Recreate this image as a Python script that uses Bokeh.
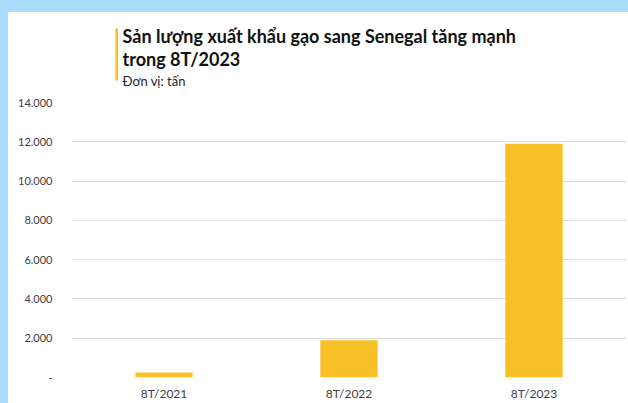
from bokeh.plotting import figure
from bokeh.models import Range1d, FactorRange, FixedTicker, Spacer, ColumnDataSource
from bokeh.layouts import column, row
from bokeh.core.properties import value
from bokeh.embed import file_html
from bokeh.resources import INLINE

# ---- data ----
categories = ["8T/2021", "8T/2022", "8T/2023"]
export_tons = [260, 1900, 11900]
y_ticks = [0, 2000, 4000, 6000, 8000, 10000, 12000, 14000]
y_tick_labels = ["-", "2.000", "4.000", "6.000", "8.000", "10.000", "12.000", "14.000"]
title_lines = ["Sản lượng xuất khẩu gạo sang Senegal tăng mạnh", "trong 8T/2023"]
subtitle = "Đơn vị: tấn"

BLUE = "#a8dcf8"
YELLOW = "#f6c026"
FONT = "Lato"

# ---- title panel ----
t = figure(width=620, height=80, x_range=Range1d(0, 620), y_range=Range1d(80, 0),
           output_backend="svg", toolbar_location=None,
           min_border=0, min_border_left=0, min_border_right=0,
           min_border_top=0, min_border_bottom=0)
t.axis.visible = False
t.grid.visible = False
t.outline_line_color = None
t.background_fill_color = "white"
t.border_fill_color = "white"
t.quad(left=[49], right=[52], top=[16], bottom=[68], fill_color=YELLOW, line_color=None)
t.text(x=[57, 57], y=[23, 46], text=title_lines, text_font=value(FONT),
       text_font_style="bold", text_font_size="18px", text_color="#111111",
       text_baseline="alphabetic", text_align="left")
t.text(x=[57], y=[68], text=[subtitle], text_font=value(FONT),
       text_font_size="13px", text_color="#262626",
       text_baseline="alphabetic", text_align="left")

# ---- chart ----
src = ColumnDataSource(dict(cat=categories, val=export_tons))
p = figure(width=620, height=311, x_range=FactorRange(*categories, range_padding=0),
           y_range=Range1d(0, 14000), output_backend="svg", toolbar_location=None,
           min_border_left=63, min_border_right=2, min_border_top=10, min_border_bottom=25)
p.vbar(x="cat", top="val", width=0.31, source=src, fill_color=YELLOW, line_color=None)
p.outline_line_color = None
p.background_fill_color = "white"
p.border_fill_color = "white"
p.xgrid.visible = False
p.ygrid.grid_line_color = "#dddddd"
p.ygrid.grid_line_width = 1
p.yaxis.ticker = FixedTicker(ticks=y_ticks)
p.yaxis.major_label_overrides = {t_: l for t_, l in zip(y_ticks, y_tick_labels)}
for ax in (p.xaxis[0], p.yaxis[0]):
    ax.axis_line_color = None
    ax.major_tick_line_color = None
    ax.minor_tick_line_color = None
    ax.major_tick_out = 0
    ax.major_tick_in = 0
    ax.minor_tick_out = 0
    ax.minor_tick_in = 0
    ax.major_label_text_font = FONT
    ax.major_label_text_color = "#404040"
p.yaxis.major_label_text_font_size = "11px"
p.yaxis.major_label_standoff = 19
p.xaxis.major_label_text_font_size = "12px"
p.xaxis.major_label_standoff = 8

bg = {"background-color": BLUE}
layout = column(
    Spacer(width=628, height=12, styles=bg),
    row(Spacer(width=8, height=391, styles=bg), column(t, p)),
)

open("out.html", "w").write(file_html(layout, INLINE))
